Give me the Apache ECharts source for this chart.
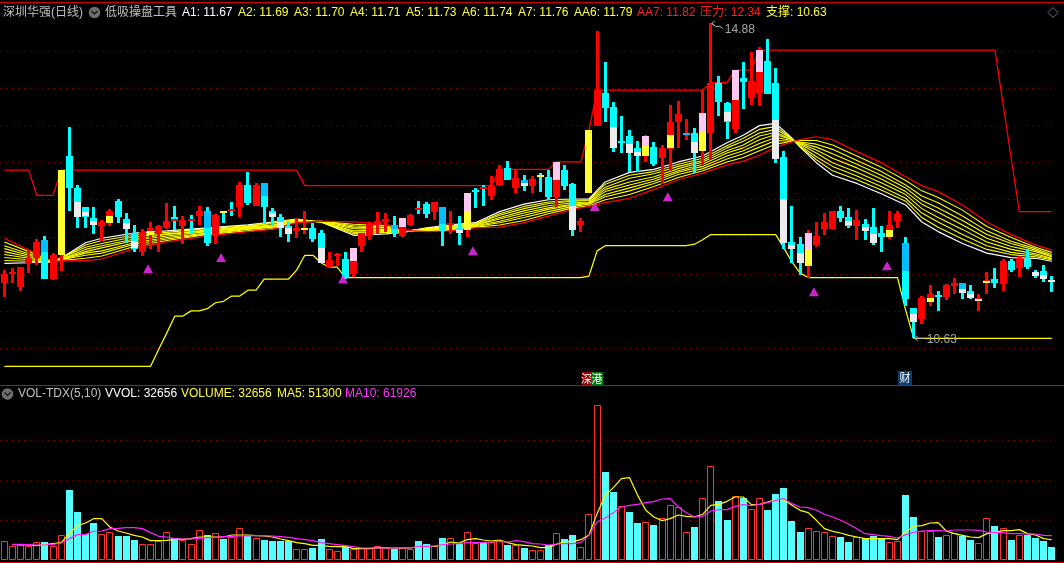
<!DOCTYPE html>
<html><head><meta charset="utf-8">
<style>html,body{margin:0;padding:0;background:#000}#c{width:1064px;height:563px}</style>
<script src="https://cdn.jsdelivr.net/npm/echarts@6/dist/echarts.min.js"></script>
</head><body><div id="c"></div>
<script>
const opens=[11.38,11.50,11.32,11.64,11.71,11.96,11.43,11.75,13.09,12.66,
12.40,12.25,12.15,12.19,12.48,12.24,12.05,11.80,12.02,12.04,
12.12,12.27,12.15,12.24,12.28,12.35,12.01,12.35,12.38,12.40,
12.70,12.42,12.73,12.35,12.27,12.15,12.08,12.11,12.12,12.05,
11.59,11.74,11.70,11.50,11.88,12.02,12.15,12.20,12.16,12.01,
12.17,12.39,12.44,12.34,12.40,12.17,12.12,12.09,12.63,12.67,
12.55,12.70,12.93,12.65,12.77,12.69,12.84,12.81,12.54,12.90,
12.71,12.15,12.59,13.50,13.94,13.75,13.29,13.36,13.20,13.09,
13.21,13.06,13.19,13.55,13.37,13.40,13.16,13.40,14.08,13.81,
13.46,14.14,13.87,13.94,14.37,14.08,13.08,11.93,11.90,11.61,
11.89,12.11,12.11,12.35,12.27,12.15,12.17,12.13,12.05,12.00,
12.21,11.92,11.04,10.89,11.12,11.22,11.19,11.34,11.38,11.27,
11.13,11.38,11.43,11.36,11.67,11.58,11.70,11.53,11.54,11.42];
const closes=[11.50,11.53,11.59,11.71,11.93,11.44,11.75,12.90,12.66,12.27,
12.27,12.16,12.20,12.35,12.27,12.11,11.84,12.07,12.12,12.15,
12.21,12.23,12.23,12.23,12.35,11.92,12.30,12.32,12.36,12.70,
12.46,12.70,12.40,12.27,12.12,12.04,12.12,12.12,11.97,11.65,
11.69,11.77,11.44,11.85,12.05,12.17,12.21,12.24,12.04,12.25,
12.30,12.36,12.31,12.47,12.07,12.19,12.05,12.59,12.62,12.65,
12.70,12.91,12.77,12.79,12.69,12.78,12.82,12.54,13.01,12.69,
12.09,12.21,13.44,13.98,13.74,13.20,13.28,13.13,13.09,13.36,
12.98,13.20,13.55,13.66,13.40,13.13,13.67,14.08,13.82,13.56,
14.25,14.09,14.10,14.52,13.93,13.06,11.92,11.84,11.65,12.05,
12.01,12.20,12.35,12.25,12.15,12.23,12.07,11.92,12.00,12.16,
12.31,11.17,10.85,11.17,11.23,11.19,11.35,11.38,11.24,11.17,
11.17,11.42,11.38,11.67,11.55,11.71,11.59,11.48,11.43,11.40];
const lows=[11.19,11.38,11.27,11.51,11.62,11.44,11.42,11.54,12.34,12.12,
12.11,12.04,11.94,12.15,12.19,11.92,11.80,11.74,11.84,11.80,
12.11,12.09,11.90,12.05,12.16,11.88,11.90,12.19,12.28,12.27,
12.42,12.42,12.17,12.15,12.00,11.93,11.98,12.04,11.93,11.65,
11.58,11.61,11.44,11.46,11.80,11.96,12.04,12.06,12.00,12.00,
12.15,12.30,12.25,12.23,11.88,12.04,11.89,12.00,12.39,12.42,
12.50,12.69,12.77,12.59,12.62,12.59,12.61,12.50,12.40,12.63,
12.02,12.06,12.59,13.50,13.55,13.15,13.13,12.87,12.87,13.00,
12.96,12.71,12.89,13.19,13.31,12.86,12.97,13.05,13.63,13.32,
13.40,13.73,13.77,13.77,13.93,13.00,11.84,11.65,11.49,11.44,
11.86,12.02,12.11,12.21,12.12,11.96,11.96,11.89,11.80,11.97,
12.12,11.07,10.63,10.82,11.07,11.00,11.15,11.23,11.16,11.16,
11.00,11.23,11.31,11.27,11.53,11.46,11.57,11.44,11.39,11.25];
const highs=[11.55,11.58,11.59,11.82,11.97,12.01,11.78,12.90,13.48,12.70,
12.40,12.40,12.23,12.38,12.51,12.32,12.16,12.11,12.20,12.16,
12.46,12.42,12.28,12.30,12.42,12.40,12.31,12.35,12.47,12.74,
12.87,12.73,12.73,12.39,12.31,12.20,12.25,12.35,12.19,12.09,
11.80,11.78,11.80,11.85,12.05,12.20,12.34,12.32,12.28,12.25,
12.31,12.48,12.47,12.47,12.40,12.35,12.28,12.59,12.66,12.70,
12.82,12.97,13.02,12.90,12.84,12.82,12.86,12.90,13.01,12.97,
12.73,12.25,13.44,14.78,14.36,13.82,13.63,13.44,13.29,13.37,
13.28,13.24,13.78,13.83,13.59,13.47,13.98,14.88,14.17,13.82,
14.25,14.36,14.49,14.56,14.67,14.28,13.16,12.42,12.00,12.09,
12.20,12.32,12.35,12.42,12.39,12.36,12.24,12.39,12.15,12.35,
12.35,12.00,11.04,11.20,11.35,11.27,11.36,11.44,11.38,11.35,
11.23,11.53,11.58,11.70,11.70,11.74,11.84,11.55,11.62,11.47];

const whiteParts=[[9,12.47,12.27],[10,12.33,12.27],[11,12.21,12.16],[15,12.19,12.11],[16,11.94,11.84],[33,12.32,12.27],[34,12.20,12.12],[35,12.12,12.04],[39,11.85,11.65],[56,12.09,12.05],[64,12.73,12.69],[70,12.42,12.09],[75,13.48,13.20],[77,13.25,13.13],[78,13.15,13.09],[85,13.28,13.13],[89,13.68,13.56],[95,13.58,13.06],[96,12.51,11.92],[97,11.89,11.84],[98,11.78,11.65],[104,12.21,12.15],[106,12.13,12.07],[107,12.04,11.92],[112,10.96,10.85],[118,11.30,11.24],[119,11.23,11.18],[120,11.16,11.14],[127,11.53,11.48],[128,11.48,11.43],[129,11.42,11.40]];
const pinkParts=[[43,11.85,11.67],[49,12.25,12.13],[57,12.59,12.35],[68,13.01,12.77],[79,13.36,13.23],[86,13.67,13.41],[90,14.25,13.85],[93,14.52,14.22],[99,12.05,11.84]];
const yellowParts=[[7,12.90,11.75],[13,12.28,12.19],[18,12.08,12.02],[27,12.35,12.32],[37,12.12,12.11],[57,12.35,12.09],[66,12.84,12.82],[72,13.44,12.59],[79,13.23,13.09],[82,13.37,13.19],[86,13.41,13.16],[99,11.84,11.61],[109,12.09,12.00],[114,11.17,11.12],[121,11.41,11.39]];
const blueParts=[[5,11.96,11.80],[25,12.35,12.12],[32,12.73,12.55],[48,12.16,12.11],[54,12.40,12.17],[64,12.77,12.73],[84,13.40,13.37],[111,11.92,11.54],[118,11.38,11.30]];
const redParts=[[21,12.24,12.22],[23,12.24,12.23],[28,12.38,12.36],[51,12.39,12.37],[59,12.67,12.65]];

const supportPts=[[0,10.25],[18,10.25],[19,10.48],[20,10.70],[21,10.93],[22,10.93],[23,11.00],[24,11.00],[25,11.03],[26,11.11],[27,11.13],[28,11.20],[29,11.20],[30,11.28],[31,11.28],[32,11.43],[35,11.43],[36,11.55],[37,11.75],[38,11.75],[39,11.65],[40,11.59],[41,11.59],[42,11.45],[71,11.45],[72,11.47],[73,11.81],[74,11.88],[84,11.88],[85,11.90],[86,11.96],[87,12.03],[95,12.03],[96,11.85],[97,11.66],[98,11.51],[99,11.45],[110,11.45],[111,11.01],[112,10.63],[129,10.63]];
const pressurePts=[[0,12.90],[3,12.90],[4,12.56],[6,12.56],[7,12.90],[36,12.90],[37,12.69],[60,12.69],[61,12.91],[67,12.91],[68,13.01],[71,13.01],[72,13.44],[73,13.98],[86,13.98],[87,14.08],[89,14.08],[90,14.25],[92,14.25],[93,14.52],[122,14.52],[123,13.79],[124,13.06],[125,12.34],[129,12.34]];

const ribbonIdx=[0,3,6,8,10,12,16,20,25,30,33,36,39,43,47,49,52,55,58,61,64,67,70,72,74,77,80,83,86,89,91,93,95,97,98,100,102,105,108,111,113,115,118,121,124,127,129];
const A1=[11.64,11.65,11.66,11.78,11.92,11.98,12.05,12.08,12.12,12.16,12.20,12.24,12.20,12.02,12.04,12.06,12.12,12.16,12.19,12.34,12.44,12.50,12.51,12.51,12.74,12.87,12.91,13.01,13.09,13.27,13.37,13.50,13.53,13.33,13.21,13.00,12.83,12.72,12.58,12.43,12.20,12.07,11.91,11.78,11.72,11.71,11.67];
const A2=[11.68,11.67,11.66,11.77,11.89,11.95,12.02,12.06,12.11,12.15,12.19,12.23,12.20,12.04,12.06,12.06,12.11,12.15,12.18,12.31,12.41,12.47,12.49,12.50,12.71,12.83,12.88,12.98,13.06,13.23,13.33,13.45,13.49,13.32,13.22,13.04,12.89,12.77,12.63,12.48,12.26,12.13,11.97,11.83,11.76,11.73,11.69];
const A3=[11.72,11.69,11.66,11.76,11.86,11.91,12.00,12.04,12.09,12.14,12.18,12.23,12.20,12.06,12.07,12.07,12.11,12.14,12.17,12.29,12.38,12.45,12.48,12.49,12.67,12.79,12.85,12.95,13.03,13.20,13.29,13.40,13.45,13.32,13.23,13.08,12.95,12.82,12.68,12.52,12.32,12.20,12.03,11.88,11.79,11.75,11.70];
const A4=[11.76,11.71,11.66,11.74,11.83,11.88,11.97,12.03,12.08,12.13,12.16,12.22,12.20,12.08,12.09,12.07,12.10,12.13,12.16,12.26,12.35,12.42,12.46,12.47,12.64,12.74,12.81,12.92,13.01,13.16,13.24,13.36,13.41,13.31,13.25,13.13,13.00,12.87,12.73,12.57,12.38,12.26,12.10,11.93,11.83,11.77,11.71];
const A5=[11.80,11.73,11.66,11.73,11.80,11.85,11.95,12.01,12.07,12.12,12.15,12.22,12.20,12.11,12.10,12.07,12.10,12.12,12.16,12.24,12.32,12.39,12.44,12.46,12.61,12.70,12.78,12.89,12.98,13.13,13.20,13.31,13.38,13.31,13.26,13.17,13.06,12.93,12.78,12.61,12.44,12.33,12.16,11.98,11.87,11.80,11.73];
const A6=[11.84,11.75,11.67,11.72,11.78,11.81,11.92,11.99,12.05,12.11,12.14,12.21,12.21,12.13,12.12,12.08,12.09,12.11,12.15,12.21,12.29,12.37,12.43,12.45,12.57,12.66,12.75,12.87,12.95,13.09,13.16,13.26,13.34,13.30,13.27,13.21,13.12,12.98,12.83,12.66,12.49,12.39,12.22,12.03,11.91,11.82,11.74];
const A7=[11.88,11.77,11.67,11.71,11.75,11.78,11.90,11.97,12.04,12.10,12.13,12.20,12.21,12.15,12.13,12.08,12.08,12.10,12.14,12.19,12.26,12.34,12.41,12.44,12.54,12.62,12.72,12.84,12.92,13.05,13.12,13.21,13.30,13.29,13.28,13.25,13.18,13.03,12.88,12.70,12.55,12.46,12.28,12.08,11.94,11.84,11.76];
const AA6=[11.93,11.80,11.67,11.69,11.71,11.74,11.87,11.95,12.03,12.08,12.11,12.20,12.21,12.17,12.15,12.09,12.08,12.09,12.13,12.16,12.22,12.31,12.39,12.42,12.50,12.57,12.68,12.80,12.89,13.01,13.07,13.16,13.25,13.29,13.30,13.30,13.24,13.09,12.94,12.76,12.62,12.53,12.36,12.14,11.99,11.86,11.79];
const AA7=[11.98,11.82,11.67,11.68,11.68,11.70,11.84,11.93,12.01,12.07,12.10,12.19,12.21,12.20,12.17,12.09,12.07,12.08,12.12,12.13,12.19,12.28,12.37,12.41,12.46,12.52,12.64,12.77,12.86,12.97,13.02,13.10,13.21,13.28,13.31,13.35,13.31,13.15,13.00,12.81,12.69,12.61,12.43,12.20,12.03,11.89,11.82];

const signalIdx=[18,27,42,58,73,82,100,109];
const signalVal=[11.57,11.72,11.43,11.81,12.41,12.54,11.26,11.61];
const extremes=[[87,14.88],[112,10.63]];

const volumes=[47500,35000,37500,35000,46700,46700,35000,64200,175000,120000,
66700,92500,66700,71700,60000,60000,50000,40000,40000,47500,
71700,55800,50000,41700,76700,62500,69200,52500,57500,81700,
60000,56700,50000,47500,47500,49200,29200,29200,30000,52500,
29200,24200,32500,29200,30000,30000,36700,34200,27500,30000,
29200,47500,40000,35000,55000,56700,40000,71700,44200,46700,
46700,47500,37500,39200,30000,26700,26700,37500,69200,52500,
62500,34200,116700,387500,220000,170000,136700,120000,92500,96700,
87500,106700,139200,134200,71700,82500,156700,236700,147500,100000,
161700,155000,129200,156700,125000,165000,180000,97500,70000,81700,
74200,71700,61700,57500,45000,59200,55000,60000,55000,46700,
49200,162500,107500,74200,74200,57500,64200,67500,60000,50000,
44200,106700,85000,81700,50000,64200,62500,55000,47500,32656];
const hollowBars=[0,1,2,3,4,6,7,12,13,17,18,19,20,22,23,24,26,28,29,31,36,37,40,41,43,44,45,46,47,49,50,53,55,57,58,60,61,63,65,66,68,71,72,73,76,79,81,82,83,84,86,87,90,92,93,99,100,101,102,105,109,110,113,114,116,117,120,121,123,125];
const ma5=[null,39200,39200,38300,36700,39200,41700,44100,66600,86600,
93300,104100,104100,83300,73300,68300,62500,58300,49100,49100,
50000,52500,52500,54100,58300,58300,58300,58300,63300,63300,
63300,61600,60800,58300,53300,49100,44100,41700,37500,37500,
35000,34200,35000,29200,29200,29200,31700,30800,30800,30800,
30800,34200,35000,35000,39200,45800,43300,51600,54100,50800,
48300,50800,44100,39200,37500,35800,31700,31700,40000,46600,
46600,51600,63300,116600,162400,181600,204100,206600,162400,125000,
108300,99100,104100,113300,110000,108300,115000,137400,139900,147400,
158300,158300,139100,139900,145800,151600,151600,137400,125000,119100,
100000,79100,72500,68300,62500,58300,54100,54100,54100,54100,
51600,70800,85000,86600,93300,94100,73300,66600,62500,58300,
56600,66600,70000,74100,74100,76600,66600,63300,54100,51300];
const ma10=[null,40000,40000,39200,38300,38300,40000,43300,54100,64100,
64100,72500,73300,79100,80000,81600,81600,79100,69100,60000,
58300,54100,53300,53300,55000,56600,57500,59100,60000,60800,
60800,61600,61600,60800,59100,57500,54100,51600,49100,44100,
41700,39200,36700,34200,30800,30800,30800,30800,30800,30800,
30800,35000,35000,35800,39200,40800,41700,44100,44100,45000,
45800,47500,45800,49100,46600,41700,40800,38300,40800,41700,
41700,44100,62500,95800,105800,119100,133300,137400,139900,144100,
146600,153300,154100,133300,119100,108300,110000,123300,126600,126600,
134900,139100,136600,139900,144100,149900,154100,141600,133300,131600,
125000,115000,108300,100000,90000,79100,66600,64100,61600,60000,
55800,64100,70000,73300,74100,74100,73300,75800,75800,75800,
75000,70800,69100,69100,66600,66600,65800,65800,62500,61926];

const titleTexts=['深圳华强(日线)','低吸操盘工具','A1: 11.67','A2: 11.69','A3: 11.70','A4: 11.71','A5: 11.73','A6: 11.74','A7: 11.76','AA6: 11.79','AA7: 11.82','压力: 12.34','支撑: 10.63'];
const titleX=[3,105,182,238,294,350,406,462,518,574,637,700,766];
const titleColors=['#c0c0c0','#c0c0c0','#ffffff','#ffff33','#ffff33','#ffff33','#ffff33','#ffff33','#ffff33','#ffff33','#ff2020','#ff2020','#ffff33'];
const volTexts=['VOL-TDX(5,10)','VVOL: 32656','VOLUME: 32656','MA5: 51300','MA10: 61926'];
const volX=[18,105,181,277,345];
const volColors=['#c0c0c0','#ffffff','#ffff33','#ffff33','#ff33ff'];

const FONT='12px "Liberation Sans","Noto Sans CJK SC",sans-serif';
const cats=opens.map((_,i)=>String(i));
const candleData=opens.map((o,i)=>[i,o,closes[i],lows[i],highs[i]]);
const bar=(x,y,w,h,fill)=>({type:'rect',shape:{x,y,width:w,height:h},style:{fill}});

function renderCandle(p,api){
  const i=api.value(0),o=api.value(1),c=api.value(2),l=api.value(3),h=api.value(4);
  const col=c>=o?'#ff0000':'#00ffff';
  const xc=api.coord([i,o])[0];
  const yh=api.coord([i,h])[1],yl=api.coord([i,l])[1];
  const yt=api.coord([i,Math.max(o,c)])[1],yb=api.coord([i,Math.min(o,c)])[1];
  return {type:'group',children:[
    bar(Math.round(xc-1.5),Math.round(yh),3,Math.max(1,Math.round(yl-yh)),col),
    bar(Math.round(xc-3.5),Math.round(yt),7,Math.max(2,Math.round(yb-yt)),col)
  ]};
}
function partSeries(name,parts,fill){
  return {name,type:'custom',xAxisIndex:0,yAxisIndex:0,z:6,silent:true,data:parts,
    encode:{x:0,y:[1,2]},
    renderItem(p,api){
      const i=api.value(0);const xc=api.coord([i,api.value(1)])[0];
      const yt=api.coord([i,api.value(1)])[1],yb=api.coord([i,api.value(2)])[1];
      return bar(Math.round(xc-3.5),Math.round(yt),7,Math.max(2,Math.round(yb-yt)),fill);
    }};
}
function lineSeries(name,data,color,xi,yi,z,w){
  return {name,type:'line',xAxisIndex:xi,yAxisIndex:yi,data,showSymbol:false,symbol:'none',silent:true,z:z||3,
    lineStyle:{color,width:w||1},connectNulls:false,animation:false};
}
const zipR=a=>ribbonIdx.map((x,i)=>[x,a[i]]);
const dot='#a00000',none='rgba(0,0,0,0)';

const graphics=[];
[2,385,562].forEach((y,k)=>graphics.push({type:'line',silent:true,z:10,shape:{x1:0,y1:y+.5,x2:1064,y2:y+.5},style:{stroke:k==1?'#e00000':'#d00000',lineWidth:1}}));
titleTexts.forEach((t,i)=>graphics.push({type:'text',silent:true,z:10,x:titleX[i],y:13,style:{text:t,fill:titleColors[i],font:FONT,textVerticalAlign:'middle'}}));
volTexts.forEach((t,i)=>graphics.push({type:'text',silent:true,z:10,x:volX[i],y:394,style:{text:t,fill:volColors[i],font:FONT,textVerticalAlign:'middle'}}));
[[94.5,12.5],[7.5,394]].forEach(([x,y])=>{
  graphics.push({type:'circle',silent:true,z:10,shape:{cx:x,cy:y,r:5.8},style:{fill:'#6e6e6e'}});
  graphics.push({type:'polyline',silent:true,z:11,shape:{points:[[x-3,y-1.5],[x,y+1.5],[x+3,y-1.5]]},style:{stroke:'#101010',fill:'none',lineWidth:1.2}});
});
graphics.push({type:'polygon',silent:true,z:10,shape:{points:[[1053,7.5],[1058,12.5],[1053,17.5],[1048,12.5]]},style:{fill:'none',stroke:'#707070',lineWidth:1}});
[[582,372,9,13,'#8c0000','深'],[591,372,12,13,'#007a10','港'],[898,371,14,14,'#0b3d70','财']].forEach(([x,y,w,h,f,t])=>{
  graphics.push({type:'rect',silent:true,z:9,shape:{x,y,width:w,height:h},style:{fill:f}});
  graphics.push({type:'text',silent:true,z:9,x:x+w/2,y:y+h/2,style:{text:t,fill:'#ffffff',font:'11px "Noto Sans CJK SC"',textAlign:'center',textVerticalAlign:'middle'}});
});

const option={
  backgroundColor:'#000',animation:false,
  grid:[{left:0.27,width:1055.6,top:3,height:382,containLabel:false},
        {left:0.27,width:1055.6,top:385,height:175.3,containLabel:false}],
  xAxis:[{type:'category',gridIndex:0,data:cats,boundaryGap:true,axisLine:{show:false},axisTick:{show:false},axisLabel:{show:false},splitLine:{show:false}},
         {type:'category',gridIndex:1,data:cats,boundaryGap:true,axisLine:{show:false},axisTick:{show:false},axisLabel:{show:false},splitLine:{show:false}}],
  yAxis:[{type:'value',gridIndex:0,min:10,max:15.155,interval:0.5,axisLine:{show:false},axisTick:{show:false},axisLabel:{show:false},
          splitLine:{show:true,lineStyle:{type:[1,5],width:1,color:[none,dot,dot,dot,dot,dot,dot,dot,dot,dot,none,none]}}},
         {type:'value',gridIndex:1,min:0,max:438250,interval:100000,axisLine:{show:false},axisTick:{show:false},axisLabel:{show:false},
          splitLine:{show:true,lineStyle:{type:[1,5],width:1,color:[none,dot,dot,dot,none,none]}}}],
  series:[
    lineSeries('支撑',supportPts,'#ffff00',0,0,2,1.25),
    lineSeries('压力',pressurePts,'#ff0000',0,0,2,1.25),
    lineSeries('A1',zipR(A1),'#ffffff',0,0,3,1.2),
    lineSeries('A2',zipR(A2),'#ffff00',0,0,3,1.1),
    lineSeries('A3',zipR(A3),'#ffff00',0,0,3,1.1),
    lineSeries('A4',zipR(A4),'#ffff00',0,0,3,1.1),
    lineSeries('A5',zipR(A5),'#ffff00',0,0,3,1.1),
    lineSeries('A6',zipR(A6),'#ffff00',0,0,3,1.1),
    lineSeries('A7',zipR(A7),'#ffff00',0,0,3,1.1),
    lineSeries('AA6',zipR(AA6),'#ffff00',0,0,3,1.1),
    lineSeries('AA7',zipR(AA7),'#ff0000',0,0,4,1.25),
    {name:'K线',type:'custom',xAxisIndex:0,yAxisIndex:0,z:5,silent:true,data:candleData,encode:{x:0,y:[1,2,3,4]},renderItem:renderCandle},
    partSeries('white',whiteParts,'#ececec'),
    partSeries('pink',pinkParts,'#ffc8f0'),
    partSeries('yellow',yellowParts,'#ffff33'),
    partSeries('blue',blueParts,'#00bfff'),
    partSeries('red',redParts,'#ff0000'),
    {name:'signal',type:'scatter',xAxisIndex:0,yAxisIndex:0,z:7,silent:true,symbol:'triangle',symbolSize:[10,9],symbolOffset:[-2.4,0],
      itemStyle:{color:'#ff2eff'},data:signalIdx.map((x,i)=>[x,signalVal[i]])},
    {name:'extreme',type:'custom',xAxisIndex:0,yAxisIndex:0,z:8,silent:true,data:extremes,encode:{x:0,y:1},
      renderItem(p,api){
        const v=api.value(1);const c=api.coord([api.value(0),v]);
        const high=v>12;
        const pts=high?[[c[0]+1,c[1]],[c[0]+5,c[1]+3],[c[0]+9,c[1]+3],[c[0]+12,c[1]+5]]:[[c[0],c[1]],[c[0]+11,c[1]]];
        const head=[[c[0]+4,c[1]-2.5],[c[0]+1,c[1]],[c[0]+4,c[1]+2.5]];
        return {type:'group',children:[
          {type:'polyline',shape:{points:pts},style:{stroke:'#b4b4b4',fill:'none',lineWidth:1}},
          {type:'polyline',shape:{points:head},style:{stroke:'#b4b4b4',fill:'none',lineWidth:1}},
          {type:'text',x:c[0]+(high?14:13),y:c[1]+(high?6:1),style:{text:v.toFixed(2),fill:'#a8a8a8',font:FONT,textVerticalAlign:'middle'}}
        ]};
      }},
    {name:'VOLUME',type:'custom',xAxisIndex:1,yAxisIndex:1,silent:true,z:2,encode:{x:0,y:1},
      data:volumes.map((v,i)=>[i,v]),
      renderItem(p,api){
        const i=api.value(0),v=api.value(1);
        const t=api.coord([i,v]),b=api.coord([i,0]);
        const x=Math.round(t[0]-3.5),y=Math.round(t[1]),h=Math.round(b[1])-y;
        return hollowBars.includes(i)
          ? {type:'rect',shape:{x:x+.5,y:y+.5,width:6,height:h-1},style:{fill:'#000',stroke:'#ff3232',lineWidth:1}}
          : bar(x,y,7,h,'#55ffff');
      }},
    lineSeries('MA5',ma5,'#ffff00',1,1,4,1.2),
    lineSeries('MA10',ma10,'#ff22ff',1,1,5,1.2)
  ],
  graphic:graphics
};
const chart=echarts.init(document.getElementById('c'),null,{renderer:'canvas',width:1064,height:563});
chart.setOption(option);
</script></body></html>
